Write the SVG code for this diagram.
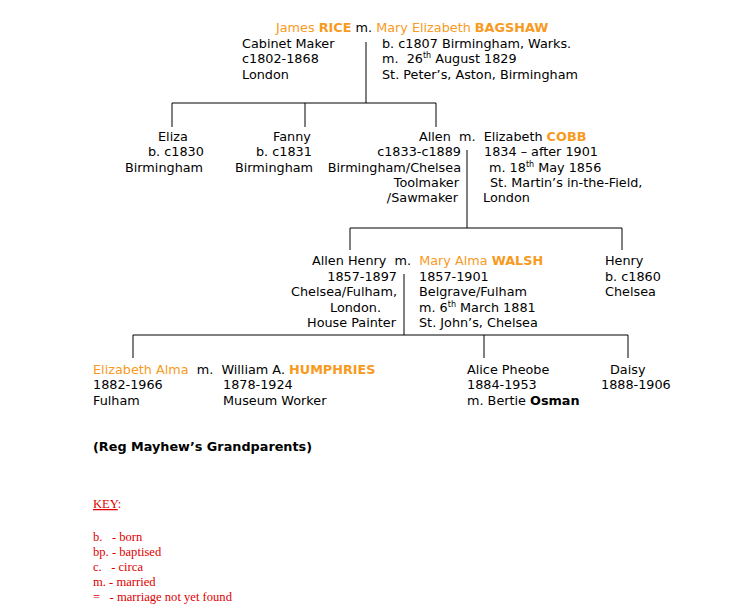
<svg xmlns="http://www.w3.org/2000/svg" width="733" height="615" viewBox="0 0 733 615" xml:space="preserve">
<style>
text{font-family:"DejaVu Sans",Verdana,sans-serif;font-size:12.8px;fill:#000;white-space:pre}
.o{fill:#f79a1e}
.b{font-weight:bold}
.r{text-anchor:end}
.k{font-family:"Liberation Serif","Times New Roman",serif;fill:#e00000;font-size:12.6px}
.c line{stroke:#000;stroke-width:1}
.s{font-size:8px}
</style>
<rect width="733" height="615" fill="#fff"/>
<g class="c" id="connectors">
<line x1="366" y1="42" x2="366" y2="103"/>
<line x1="172" y1="103" x2="436" y2="103"/>
<line x1="172" y1="103" x2="172" y2="127"/>
<line x1="305" y1="103" x2="305" y2="127"/>
<line x1="436" y1="103" x2="436" y2="127"/>
<line x1="467" y1="150" x2="467" y2="228"/>
<line x1="350" y1="228" x2="622" y2="228"/>
<line x1="350" y1="228" x2="350" y2="250"/>
<line x1="622" y1="228" x2="622" y2="250"/>
<line x1="404" y1="274" x2="404" y2="335"/>
<line x1="133" y1="335" x2="628" y2="335"/>
<line x1="133" y1="335" x2="133" y2="358"/>
<line x1="484" y1="335" x2="484" y2="358"/>
<line x1="628" y1="335" x2="628" y2="358"/>
</g>
<g id="rice">
<text x="276" y="32"><tspan class="o">James </tspan><tspan class="o b">RICE</tspan> m. <tspan class="o">Mary Elizabeth </tspan><tspan class="o b">BAGSHAW</tspan></text>
<text x="242" y="48">Cabinet Maker</text>
<text x="242" y="63">c1802-1868</text>
<text x="242" y="79">London</text>
<text x="382" y="48">b. c1807 Birmingham, Warks.</text>
<text x="382" y="63">m.  26<tspan class="s" dy="-5">th</tspan><tspan dy="5"> August 1829</tspan></text>
<text x="382" y="79">St. Peter’s, Aston, Birmingham</text>
</g>
<g id="eliza">
<text x="158" y="141">Eliza</text>
<text x="148" y="156">b. c1830</text>
<text x="125" y="172">Birmingham</text>
</g>
<g id="fanny">
<text x="273" y="141">Fanny</text>
<text x="256" y="156">b. c1831</text>
<text x="235" y="172">Birmingham</text>
</g>
<g id="allen">
<text x="419" y="141">Allen  m.  Elizabeth <tspan class="o b">COBB</tspan></text>
<text class="r" x="461" y="156">c1833-c1889</text>
<text class="r" x="461" y="172">Birmingham/Chelsea</text>
<text class="r" x="459" y="187">Toolmaker</text>
<text class="r" x="458" y="202">/Sawmaker</text>
<text x="484" y="156">1834 – after 1901</text>
<text x="489" y="172">m. 18<tspan class="s" dy="-5">th</tspan><tspan dy="5"> May 1856</tspan></text>
<text x="490" y="187">St. Martin’s in-the-Field,</text>
<text x="483" y="202">London</text>
</g>
<g id="allenhenry">
<text x="312" y="265">Allen Henry  m.  <tspan class="o">Mary Alma </tspan><tspan class="o b">WALSH</tspan></text>
<text class="r" x="397" y="281">1857-1897</text>
<text class="r" x="397" y="296">Chelsea/Fulham,</text>
<text class="r" x="381" y="312">London.</text>
<text class="r" x="396" y="327">House Painter</text>
<text x="419" y="281">1857-1901</text>
<text x="419" y="296">Belgrave/Fulham</text>
<text x="419" y="312">m. 6<tspan class="s" dy="-5">th</tspan><tspan dy="5"> March 1881</tspan></text>
<text x="419" y="327">St. John’s, Chelsea</text>
</g>
<g id="henry">
<text x="605" y="265">Henry</text>
<text x="605" y="281">b. c1860</text>
<text x="605" y="296">Chelsea</text>
</g>
<g id="elizabethalma">
<text x="93" y="374"><tspan class="o">Elizabeth Alma</tspan>  m.  William A. <tspan class="o b">HUMPHRIES</tspan></text>
<text x="93" y="389">1882-1966</text>
<text x="93" y="405">Fulham</text>
<text x="223" y="389">1878-1924</text>
<text x="223" y="405">Museum Worker</text>
</g>
<g id="alice">
<text x="467" y="374">Alice Pheobe</text>
<text x="467" y="389">1884-1953</text>
<text x="467" y="405">m. Bertie <tspan class="b">Osman</tspan></text>
</g>
<g id="daisy">
<text x="610" y="374">Daisy</text>
<text x="601" y="389">1888-1906</text>
</g>
<text class="b" x="93" y="451">(Reg Mayhew’s Grandparents)</text>
<g id="key">
<text class="k" x="93" y="508"><tspan text-decoration="underline">KEY</tspan>:</text>
<text class="k" x="93" y="541">b.   - born</text>
<text class="k" x="93" y="556">bp. - baptised</text>
<text class="k" x="93" y="571">c.   - circa</text>
<text class="k" x="93" y="586">m. - married</text>
<text class="k" x="93" y="601">=   - marriage not yet found</text>
</g>
</svg>
